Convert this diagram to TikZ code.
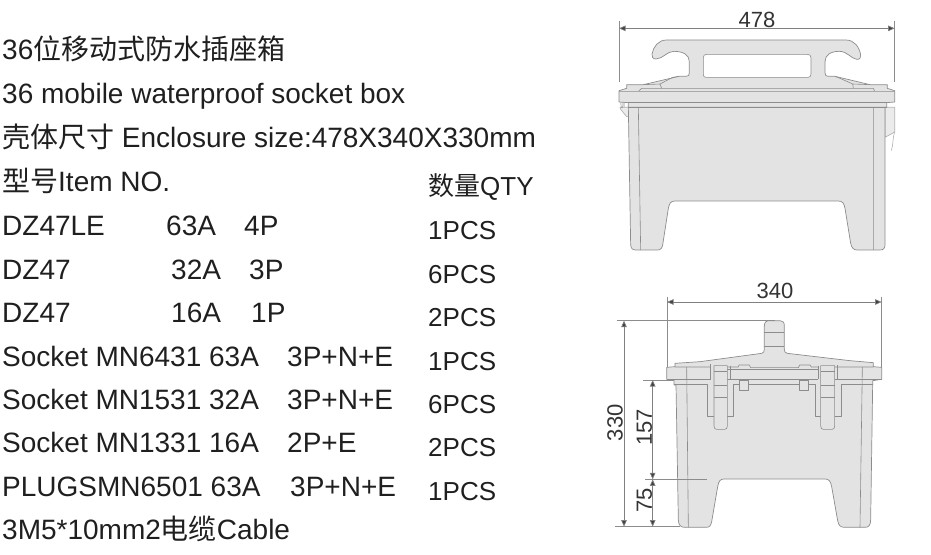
\documentclass[tikz,border=0pt]{standalone}
\usepackage{fontspec}
\setmainfont{Liberation Sans}
\newfontfamily\cjk{Noto Sans CJK SC}
\usetikzlibrary{arrows.meta}
\tikzset{
  spec/.style={anchor=base west,inner sep=0pt,text=black!88,font=\fontsize{28}{32}\selectfont},
  qty/.style={anchor=base west,inner sep=0pt,text=black!88,font=\fontsize{26}{30}\selectfont},
  dimtext/.style={inner sep=0pt,text=black!80,font=\fontsize{22}{26}\selectfont},
  dimline/.style={draw=black!50,line width=0.7pt,{Triangle[length=6.5pt,width=5.5pt,fill=black!75]}-{Triangle[length=6.5pt,width=5.5pt,fill=black!75]}},
  extline/.style={draw=black!45,line width=0.7pt},
  body/.style={draw=black!45,fill=black!11,line width=0.7pt,line join=round},
  edge/.style={draw=black!45,line width=0.6pt,line join=round}
}
\begin{document}
\begin{tikzpicture}[x=1pt,y=-1pt]
\useasboundingbox (0,0) rectangle (931,554);
% text
\node[spec] (t1) at (2,59) {36{\cjk 位移动式防水插座箱}};
\node[spec] (t2) at (2,103) {36 mobile waterproof socket box};
\node[spec] (t3) at (2,147) {{\cjk 壳体尺寸} Enclosure size:478X340X330mm};
\node[spec] (t4) at (2,191) {{\cjk 型号}Item NO.};
\node[qty] (q0) at (428,195) {{\cjk 数量}QTY};
\node[spec] (r1a) at (2,235) {DZ47LE};
\node[spec] (r1b) at (166,235) {63A};
\node[spec] (r1c) at (244,235) {4P};
\node[qty] (q1) at (428,239) {1PCS};
\node[spec] (r2a) at (2,279) {DZ47};
\node[spec] (r2b) at (171,279) {32A};
\node[spec] (r2c) at (249,279) {3P};
\node[qty] (q2) at (428,283) {6PCS};
\node[spec] (r3a) at (2,322) {DZ47};
\node[spec] (r3b) at (171,322) {16A};
\node[spec] (r3c) at (251,322) {1P};
\node[qty] (q3) at (428,326) {2PCS};
\node[spec] (r4a) at (2,366) {Socket MN6431 63A};
\node[spec] (r4b) at (287,366) {3P+N+E};
\node[qty] (q4) at (428,370) {1PCS};
\node[spec] (r5a) at (2,409) {Socket MN1531 32A};
\node[spec] (r5b) at (287,409) {3P+N+E};
\node[qty] (q5) at (428,413) {6PCS};
\node[spec] (r6a) at (2,452) {Socket MN1331 16A};
\node[spec] (r6b) at (287,452) {2P+E};
\node[qty] (q6) at (428,456) {2PCS};
\node[spec] (r7a) at (2,496) {PLUGSMN6501 63A};
\node[spec] (r7b) at (290,496) {3P+N+E};
\node[qty] (q7) at (428,500) {1PCS};
\node[spec] (t5) at (2,539) {3M5*10mm2{\cjk 电缆}Cable};
% front view
\begin{scope}[shift={(600,0)},x=0.33333pt,y=-0.33333pt]
 \path[body,draw=black!30,fill=black!8] (60,322) -- (62,328) -- (80,350) -- (86,350) -- (86,322) -- cycle;
 \path[body,draw=black!30,fill=black!8] (855,322) -- (884,322) -- (884,396) -- (855,412) -- cycle;
 \draw[black!30,line width=0.6pt] (884,396) .. controls (878,410) and (880,435) .. (874,452);
 \path[body] (85,322) -- (92,735) .. controls (93,746) and (98,750) .. (108,750) -- (172,750) .. controls (182,750) and (186,745) .. (188,735) -- (205,625) .. controls (208,610) and (212,603) .. (225,603) -- (715,603) .. controls (728,603) and (732,610) .. (735,625) -- (752,730) .. controls (755,745) and (762,750) .. (772,750) -- (840,750) .. controls (850,750) and (855,745) .. (855,735) -- (855,322) -- cycle;
 \path[body] (57,272) -- (80,265) -- (80,254) -- (130,254) -- (237,229) -- (258,229) .. controls (266,229) and (268,226) .. (268,218) -- (268,185) .. controls (268,165) and (250,154) .. (222,154) .. controls (200,154) and (190,176) .. (168,177) .. controls (158,177) and (155,170) .. (156,162) .. controls (160,140) and (175,120) .. (200,120) -- (738,120) .. controls (762,120) and (778,140) .. (782,165) .. controls (783,172) and (780,179) .. (770,178) .. controls (752,175) and (742,154) .. (718,154) .. controls (692,154) and (675,165) .. (675,185) -- (675,218) .. controls (675,226) and (678,229) .. (685,229) -- (705,229) -- (810,254) -- (862,254) -- (862,265) -- (884,272) -- (884,306) -- (860,308) -- (860,322) -- (85,322) -- (85,308) -- (57,306) -- cycle;
 \draw[edge,fill=white] (310,172) .. controls (310,166) and (314,163) .. (320,163) -- (622,163) .. controls (630,163) and (633,167) .. (633,174) -- (633,222) .. controls (633,229) and (630,232) .. (624,232) -- (318,232) .. controls (313,232) and (310,229) .. (310,224) -- cycle;
 \draw[edge] (57,274) -- (884,274) (115,274) -- (125,265) -- (820,265) -- (824,274);
 \draw[edge] (85,307) -- (860,307) (85,322) -- (860,322);
 \draw[edge] (115,322) -- (122,750) (820,322) -- (820,750);
 \draw[edge] (130,254) -- (180,252) -- (185,265) (180,252) -- (218,232) -- (237,229);
 \draw[edge] (810,254) -- (758,252) -- (760,265) (758,252) -- (720,235) -- (705,229);
 \draw[edge,line width=0.5pt] (62,308) -- (64,322) -- (68,322) -- (69,308) (72,308) -- (72,322);
\end{scope}
% side view
\begin{scope}[shift={(600,270)},x=0.33333pt,y=-0.33333pt]
 \path[body] (200,292) -- (225,290) -- (225,280) -- (300,275) -- (485,250) .. controls (491,248) and (493,245) .. (493,238) -- (493,168) .. controls (493,157) and (498,152) .. (508,152) -- (540,152) .. controls (549,152) and (553,157) .. (553,168) -- (553,238) .. controls (553,245) and (555,248) .. (562,250) -- (750,272) -- (820,278) -- (820,290) -- (845,292) -- (845,328) -- (818,332) -- (818,345) -- (812,748) .. controls (812,766) and (806,772) .. (795,772) -- (735,772) .. controls (722,772) and (716,768) .. (713,752) -- (695,650) .. controls (692,634) and (687,627) .. (675,627) -- (372,627) .. controls (360,627) and (356,634) .. (353,650) -- (335,755) .. controls (332,768) and (328,772) .. (318,772) -- (255,772) .. controls (242,772) and (236,766) .. (235,750) -- (228,345) -- (222,345) -- (222,330) -- (200,328) -- cycle;
 \draw[edge] (493,187) -- (553,187) (493,228) -- (553,228);
 \draw[edge] (200,328) -- (332,328) (382,328) -- (655,328) (704,328) -- (845,328);
 \draw[edge] (225,291) -- (332,291) (382,291) -- (415,291) -- (417,285) -- (448,285) -- (452,293) -- (595,293) -- (599,285) -- (630,285) -- (634,291) -- (655,291) (704,291) -- (820,291);
 \draw[edge] (382,298) -- (655,298);
 \draw[edge] (332,283) -- (332,328) (392,287) -- (392,328) (655,287) -- (655,328) (713,285) -- (713,328);
 \draw[edge] (260,291) -- (265,772) (787,291) -- (780,772);
 \draw[edge] (222,343) -- (322,343) -- (322,438) -- (342,438) (382,438) -- (400,438) -- (400,343) -- (419,343) (445,343) -- (599,343) (625,343) -- (645,343) -- (645,438) -- (662,438) (704,438) -- (724,438) -- (724,343) -- (818,343);
 \foreach \xa/\xb in {342/382,662/704}{
  \draw[edge,fill=black!11] (\xa,287) -- (\xb,287) -- (\xb,468) .. controls (\xb,475) and ({\xb-3},478) .. ({\xb-8},478) -- ({\xa+8},478) .. controls ({\xa+3},478) and (\xa,475) .. (\xa,468) -- cycle;
  \draw[edge] (\xa,303) -- (\xb,303) (\xa,345) -- (\xb,345) (\xa,383) -- (\xb,383);
 }
 \foreach \xa in {419,599}{\draw[edge,fill=black!11] (\xa,330) rectangle ({\xa+26},362);}
\end{scope}
% dimensions, front
\begin{scope}[shift={(600,0)},x=0.33333pt,y=-0.33333pt]
 \coordinate (fa) at (57,85); \coordinate (fb) at (884,85);
 \coordinate (fa0) at (57,63); \coordinate (fa1) at (57,246);
 \coordinate (fb0) at (884,63); \coordinate (fb1) at (884,246);
 \draw[extline] (fa0) -- (fa1); \draw[extline] (fb0) -- (fb1);
 \draw[dimline] (fa) -- (fb);
 \node[dimtext] (d478) at (471,60) {478};
\end{scope}
% dimensions, side
\begin{scope}[shift={(600,270)},x=0.33333pt,y=-0.33333pt]
 \coordinate (wa) at (201,96); \coordinate (wb) at (845,96);
 \coordinate (wa0) at (201,82); \coordinate (wa1) at (201,290);
 \coordinate (wb0) at (845,82); \coordinate (wb1) at (845,290);
 \draw[extline] (wa0) -- (wa1); \draw[extline] (wb0) -- (wb1);
 \draw[dimline] (wa) -- (wb);
 \node[dimtext] (d340) at (525,62) {340};
 \coordinate (ha) at (72,152); \coordinate (hb) at (72,770);
 \coordinate (h0a) at (50,152); \coordinate (h0b) at (525,152);
 \coordinate (h1a) at (45,770); \coordinate (h1b) at (240,770);
 \draw[extline] (h0a) -- (h0b); \draw[extline] (h1a) -- (h1b);
 \draw[dimline] (ha) -- (hb);
 \node[dimtext,rotate=90] (d330) at (45,458) {330};
 \coordinate (ma) at (158,330); \coordinate (mb) at (158,628); \coordinate (mc) at (158,770);
 \coordinate (m0a) at (130,330); \coordinate (m0b) at (222,330);
 \coordinate (m1a) at (135,628); \coordinate (m1b) at (322,628);
 \draw[extline] (m0a) -- (m0b); \draw[extline] (m1a) -- (m1b);
 \draw[dimline] (ma) -- (mb); \draw[dimline] (mb) -- (mc);
 \node[dimtext,rotate=90] (d157) at (133,472) {157};
 \node[dimtext,rotate=90] (d75) at (133,692) {75};
\end{scope}
\end{tikzpicture}
\end{document}
